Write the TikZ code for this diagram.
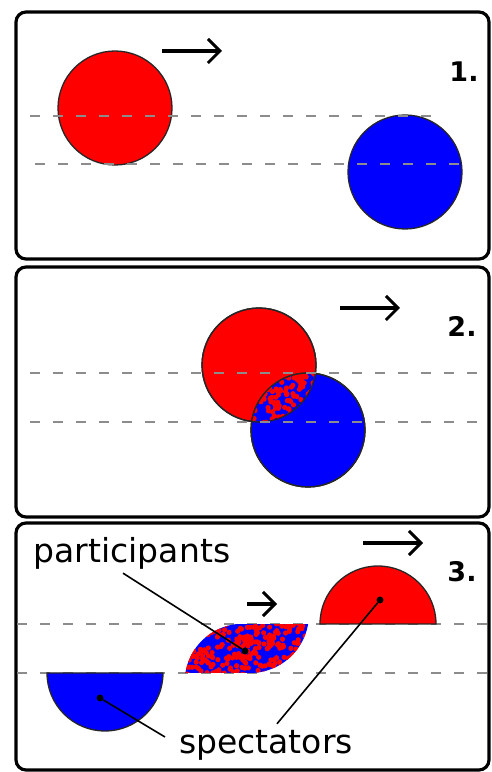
\documentclass[tikz,border=0pt]{standalone}
\usepackage{fontspec}
\setmainfont{DejaVu Sans}
\usetikzlibrary{arrows.meta,positioning,calc}

\begin{document}
\begin{tikzpicture}[x=1pt,y=1pt]

\tikzstyle{panel} = [line width=3.2pt, rounded corners=10pt]
\tikzstyle{track} = [gray!90, line width=2.2pt, dash pattern=on 10pt off 13pt]
\tikzstyle{ball} = [draw=black!85, line width=1.3pt, circle, minimum size=114pt, inner sep=0pt]
\tikzstyle{move} = [line width=4pt, -{Straight Barb[length=12pt,width=24pt,line width=3pt]}]
\tikzstyle{num} = [font=\bfseries\fontsize{27}{27}\selectfont]
\tikzstyle{word} = [font=\fontsize{33}{33}\selectfont, inner sep=0pt]
\tikzstyle{pointer} = [line width=1.6pt]
\tikzstyle{pin} = [circle, fill=black, inner sep=0pt, minimum size=7pt]

\useasboundingbox (0,0) rectangle (491,772);
\pgfmathsetseed{42}

% frames
\draw[panel] (16,513) rectangle (489,760);
\draw[panel] (16,255) rectangle (489,505);
\draw[panel] (16,2) rectangle (489,249);

% --- 1. before the collision
\node[ball, fill=red] (red1) at (115,664) {};
\node[ball, fill=blue] (blue1) at (405,600) {};
\draw[track] (30,656) -- (442,656);
\draw[track] (35,608) -- (465,608);
\coordinate (a1) at (162,721);
\coordinate (b1) at (222,721);
\draw[move] (a1) -- (b1);
\node[num] (n1) at (464,700) {1.};

% --- 2. overlap
\node[ball, fill=red] (red2) at (259,407) {};
\node[ball, fill=blue] (blue2) at (308,342) {};
\begin{scope}
\clip (red2.center) circle (57pt);
\clip (blue2.center) circle (57pt);
\fill[blue] (blue2.center) circle (57pt);
\foreach \i in {1,...,300}
  \fill[red] ($(283,375)+(rand*45,rand*45)$) circle (2.6pt);
\end{scope}
\draw[draw=black!85, line width=1.3pt] (red2.center) circle (57pt);
\draw[draw=black!85, line width=1.3pt] (blue2.center) circle (57pt);
\draw[track] (30,399) -- (480,399);
\draw[track] (30,350) -- (480,350);
\coordinate (a2) at (340,464);
\coordinate (b2) at (400,464);
\draw[move] (a2) -- (b2);
\node[num] (n2) at (462,446) {2.};

% --- 3. after: participants and spectators
\draw[track] (17,148) -- (490,148);
\draw[track] (17,99) -- (490,99);
\fill[red, draw=black!85, line width=1.3pt] (320,148) arc (180:0:58pt) -- cycle;
\fill[blue, draw=black!85, line width=1.3pt] (47,99) arc (180:360:58pt) -- cycle;
\begin{scope}
\clip (186,99) -- (250,99) arc[start angle=-90, end angle=-10, radius=59pt]
  -- (237,148) arc[start angle=96, end angle=171, radius=58.5pt] -- cycle;
\fill[blue] (180,95) rectangle (312,152);
\foreach \i in {1,...,260}
  \fill[red] ($(247,123)+(rand*62,rand*26)$) circle (2.6pt);
\end{scope}
\coordinate (a3) at (247,168);
\coordinate (b3) at (277,168);
\draw[move] (a3) -- (b3);
\coordinate (a4) at (363,229);
\coordinate (b4) at (423,229);
\draw[move] (a4) -- (b4);
\node[num] (n3) at (462,200) {3.};

\node[word] (participants) at (132,219) {participants};
\node[word] (spectators) at (266,27) {spectators};
\node[pin] (lens) at (245,121) {};
\node[pin] (spec1) at (100,74) {};
\node[pin] (spec2) at (380,172) {};
\draw[pointer] ([xshift=-9pt,yshift=-4pt]participants.south) -- (lens);
\draw[pointer] ([xshift=-14pt,yshift=8pt]spectators.west) -- (spec1);
\draw[pointer] ([xshift=11pt,yshift=6pt]spectators.north) -- (spec2);

\end{tikzpicture}
\end{document}
